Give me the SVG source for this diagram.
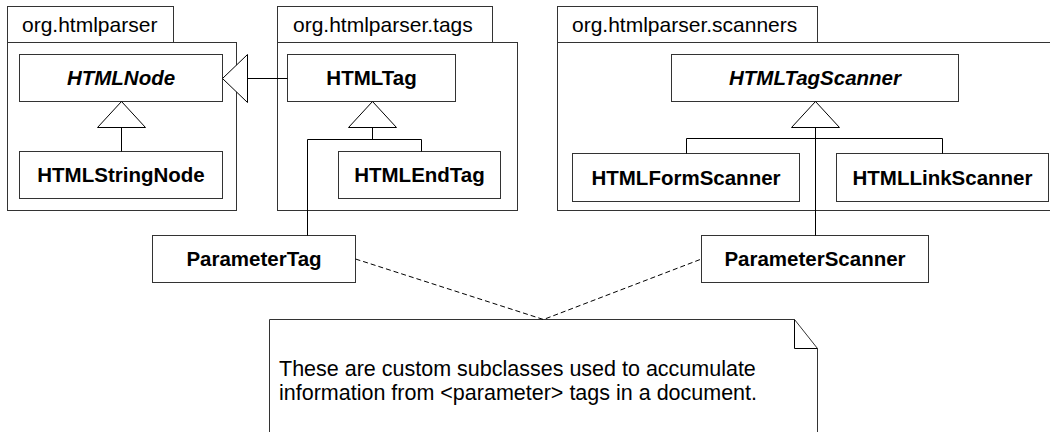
<svg xmlns="http://www.w3.org/2000/svg" width="1050" height="432" viewBox="0 0 1050 432">
<style>
.pkg{fill:#fff;stroke:#333;stroke-width:1}
.box{fill:#fff;stroke:#333;stroke-width:1}
.lbl{font-family:"Liberation Sans",Arial,Helvetica,sans-serif;font-size:21px;fill:#000}
.cls{font-family:"Liberation Sans",Arial,Helvetica,sans-serif;font-size:20.5px;font-weight:bold;fill:#000;text-anchor:middle}
.abs{font-style:italic}
.note{font-family:"Liberation Sans",Arial,Helvetica,sans-serif;font-size:21.5px;fill:#000}
.ln{fill:none;stroke:#000;stroke-width:1}
.tri{fill:#fff;stroke:#000;stroke-width:1}
.dash{fill:none;stroke:#000;stroke-width:1;stroke-dasharray:5,3}
</style>
<g id="pkg-htmlparser">
<rect class="pkg" x="7.5" y="6.5" width="166" height="36"/>
<rect class="pkg" x="7.5" y="42.5" width="229" height="168"/>
<text class="lbl" x="22" y="32">org.htmlparser</text>
</g>
<g id="pkg-tags">
<rect class="pkg" x="277.5" y="6.5" width="215" height="36"/>
<rect class="pkg" x="277.5" y="42.5" width="240" height="168"/>
<text class="lbl" x="293" y="32">org.htmlparser.tags</text>
</g>
<g id="pkg-scanners">
<rect class="pkg" x="557.5" y="6.5" width="260" height="36"/>
<rect class="pkg" x="557.5" y="42.5" width="520" height="168"/>
<text class="lbl" x="572" y="32">org.htmlparser.scanners</text>
</g>
<g id="HTMLNode">
<rect class="box" x="19.5" y="54.5" width="203" height="47"/>
<text class="cls abs" x="121" y="85">HTMLNode</text>
</g>
<g id="HTMLStringNode">
<rect class="box" x="19.5" y="151.5" width="203" height="47"/>
<text class="cls" x="121" y="182">HTMLStringNode</text>
</g>
<g id="HTMLTag">
<rect class="box" x="287.5" y="54.5" width="168" height="47"/>
<text class="cls" x="371.5" y="85">HTMLTag</text>
</g>
<g id="HTMLEndTag">
<rect class="box" x="338.5" y="151.5" width="162" height="47"/>
<text class="cls" x="419.5" y="182">HTMLEndTag</text>
</g>
<g id="HTMLTagScanner">
<rect class="box" x="671.5" y="54.5" width="287" height="47"/>
<text class="cls abs" x="815" y="85">HTMLTagScanner</text>
</g>
<g id="HTMLFormScanner">
<rect class="box" x="572.5" y="153.5" width="227" height="48"/>
<text class="cls" x="686" y="185">HTMLFormScanner</text>
</g>
<g id="HTMLLinkScanner">
<rect class="box" x="836.5" y="153.5" width="212" height="48"/>
<text class="cls" x="942.5" y="185">HTMLLinkScanner</text>
</g>
<g id="ParameterTag">
<rect class="box" x="152.5" y="235.5" width="203" height="47"/>
<text class="cls" x="254" y="266">ParameterTag</text>
</g>
<g id="ParameterScanner">
<rect class="box" x="701.5" y="235.5" width="227" height="47"/>
<text class="cls" x="815" y="266">ParameterScanner</text>
</g>
<g id="note">
<path class="box" d="M269.5,319.5 H794.5 L817.5,348.5 V445 H269.5 Z"/>
<path class="ln" d="M794.5,319.5 V348.5 H817.5"/>
<text class="note" x="279" y="376">These are custom subclasses used to accumulate</text>
<text class="note" x="279" y="400">information from &lt;parameter&gt; tags in a document.</text>
</g>
<g id="connectors">
<path class="ln" d="M121.5,127.5 V151.5"/>
<polygon class="tri" points="121.5,101.5 97.5,127.5 145.5,127.5"/>
<path class="ln" d="M247.5,78.5 H287.5"/>
<polygon class="tri" points="222.5,78.5 247.5,54.5 247.5,102.5"/>
<path class="ln" d="M372.5,127.5 V139.5 M307.5,235.5 V139.5 H421.5 V151.5"/>
<polygon class="tri" points="372.5,101.5 348.5,127.5 396.5,127.5"/>
<path class="ln" d="M815.5,127.5 V235.5 M686.5,153.5 V138.5 H942.5 V153.5"/>
<polygon class="tri" points="815.5,101.5 791.5,127.5 839.5,127.5"/>
<path class="dash" d="M355.5,259 L543.5,319.5 L701.5,259"/>
</g>
</svg>
